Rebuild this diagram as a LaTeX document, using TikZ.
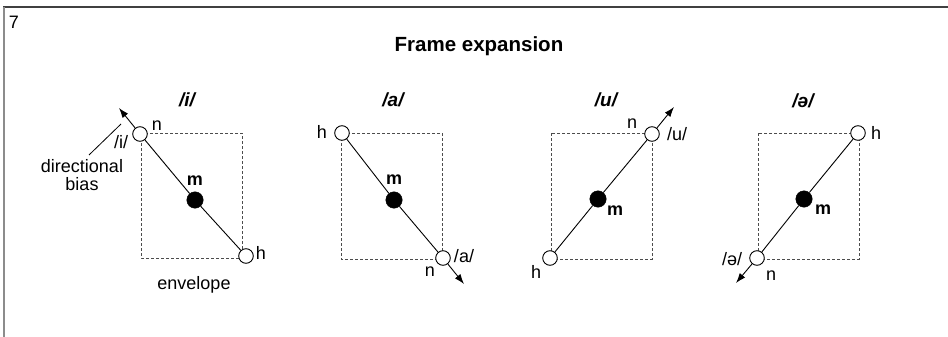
\documentclass[tikz,border=0pt]{standalone}
\usepackage{fontspec}
\setmainfont{Liberation Sans}
\usetikzlibrary{arrows.meta}
\begin{document}
\begin{tikzpicture}[x=1pt,y=-1pt,
  lab/.style={inner sep=0pt, font=\fontsize{18}{18}\selectfont},
  blab/.style={inner sep=0pt, font=\fontsize{18}{18}\selectfont\bfseries},
  ttl/.style={inner sep=0pt, font=\fontsize{19}{20}\selectfont\bfseries\itshape},
  opencirc/.style={circle, draw, fill=white, minimum size=14.6pt, inner sep=0pt, line width=0.9pt},
  fullcirc/.style={circle, fill=black, draw=black, minimum size=16.5pt, inner sep=0pt},
  env/.style={dashed, dash pattern=on 3pt off 2pt, draw=black!70, line width=0.8pt},
  conn/.style={line width=0.9pt},
  bias/.style={line width=0.9pt, -{Latex[length=10pt,width=7pt]}}
]
\useasboundingbox (0,0) rectangle (948,337);
% frame
\draw[line width=2pt, draw=black!75] (3,7) -- (948,7);
\draw[line width=2pt, draw=black!45] (4,7) -- (4,337);
\node[lab] (num) at (14,22) {7};
\node[inner sep=0pt, font=\fontsize{20.5}{22}\selectfont\bfseries, anchor=base] (title) at (479,52) {Frame expansion};

% ---------- panel 1 /i/
\draw[env] (141,133) rectangle (242,258);
\node[opencirc] (n1) at (140,134) {};
\node[fullcirc] (m1) at (195,200) {};
\node[opencirc] (h1) at (246,256) {};
\coordinate (t1) at (119,108);
\draw[conn] (h1) -- (m1);
\draw[conn] (m1) -- (n1);
\draw[bias] (n1) -- (t1);
\node[ttl] (T1) at (187,100) {/i/};
\node[lab] (nl1) at (157,126) {n};
\node[lab] (il1) at (121,142) {/i/};
\node[blab] (ml1) at (195,181) {m};
\node[lab] (hl1) at (261,253) {h};
\node[lab] (envl) at (194,285) {envelope};
\node[lab, align=center] (biasl) at (82,175) {directional\\bias};
\coordinate (bs) at (89,155);
\coordinate (be) at (121,124);
\draw[line width=0.8pt] (bs) -- (be);

% ---------- panel 2 /a/
\draw[env] (341,133) rectangle (442,259);
\node[opencirc] (h2) at (342,133) {};
\node[fullcirc] (m2) at (394,200) {};
\node[opencirc] (n2) at (443,258) {};
\coordinate (t2) at (464,284);
\draw[conn] (h2) -- (m2);
\draw[conn] (m2) -- (n2);
\draw[bias] (n2) -- (t2);
\node[ttl] (T2) at (393,100) {/a/};
\node[lab] (hl2) at (322,132) {h};
\node[blab] (ml2) at (394,180) {m};
\node[lab] (al2) at (464,256) {/a/};
\node[lab] (nl2) at (430,272) {n};

% ---------- panel 3 /u/
\draw[env] (551,133) rectangle (652,259);
\node[opencirc] (n3) at (652,134) {};
\node[fullcirc] (m3) at (598,199) {};
\node[opencirc] (h3) at (550,258) {};
\coordinate (t3) at (674,107);
\draw[conn] (h3) -- (m3);
\draw[conn] (m3) -- (n3);
\draw[bias] (n3) -- (t3);
\node[ttl] (T3) at (606,100) {/u/};
\node[lab] (nl3) at (632,124) {n};
\node[lab] (ul3) at (677,134) {/u/};
\node[blab] (ml3) at (615,211) {m};
\node[lab] (hl3) at (536,272) {h};

% ---------- panel 4 /ə/
\draw[env] (758,133) rectangle (859,259);
\node[opencirc] (h4) at (858,133) {};
\node[fullcirc] (m4) at (804,199) {};
\node[opencirc] (n4) at (757,258) {};
\coordinate (t4) at (736,283);
\draw[conn] (h4) -- (m4);
\draw[conn] (m4) -- (n4);
\draw[bias] (n4) -- (t4);
\node[ttl] (T4) at (803,101) {/ə/};
\node[lab] (hl4) at (876,133) {h};
\node[blab] (ml4) at (823,210) {m};
\node[lab] (sl4) at (732,259) {/ə/};
\node[lab] (nl4) at (771,276) {n};
\end{tikzpicture}
\end{document}
